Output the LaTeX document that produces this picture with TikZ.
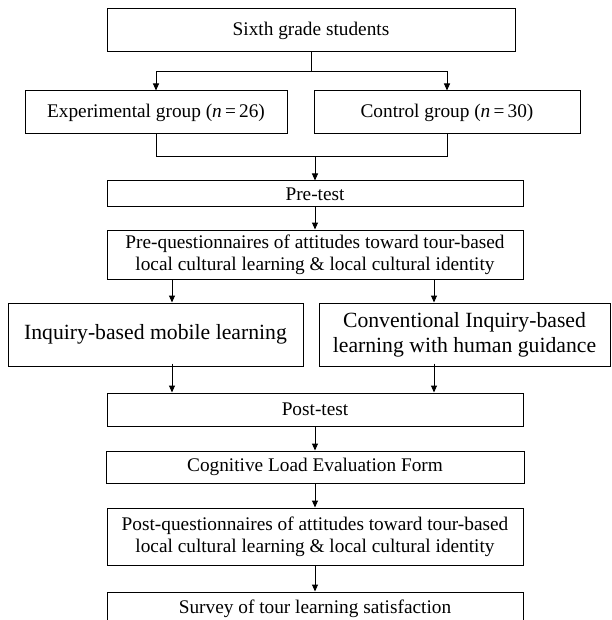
\documentclass[tikz,border=0pt]{standalone}
\usepackage{fontspec}
\setmainfont{Liberation Serif}
\usetikzlibrary{arrows.meta}
\tikzset{
  box/.style={draw, line width=1pt, inner sep=0pt, align=center,
    font=\fontsize{19.3}{22}\selectfont},
  bigbox/.style={box, font=\fontsize{21.7}{25}\selectfont},
  arr/.style={line width=1pt, -{Triangle[length=7pt,width=6pt]}},
  ln/.style={-}
}
\begin{document}
\begin{tikzpicture}[x=1pt,y=-1pt]
      \clip (0,0) rectangle (611,620);
      \fill[white] (0,0) rectangle (611,620);
      \node[box, minimum width=408pt, minimum height=43pt] (top) at (311,30.5) {Sixth grade students};
      \node[box, minimum width=262pt, minimum height=43pt] (exp) at (156,112.5) {Experimental group (\textit{n}\,=\,26)};
      \node[box, minimum width=266pt, minimum height=43pt] (ctrl) at (447,112.5) {Control group (\textit{n}\,=\,30)};
      \node[box, minimum width=416pt, minimum height=26pt] (pre) at (315,194) {Pre-test};
      \node[box, minimum width=416pt, minimum height=49pt] (preq) at (315,254.5) {Pre-questionnaires of attitudes toward tour-based\\local cultural learning \& local cultural identity};
      \node[bigbox, minimum width=295pt, minimum height=63pt] (inq) at (155.5,334.5) {Inquiry-based mobile learning};
      \node[bigbox, minimum width=291pt, minimum height=63pt] (conv) at (464.5,334.5) {Conventional Inquiry-based\\learning with human guidance};
      \node[box, minimum width=416pt, minimum height=33pt] (post) at (315,409.5) {Post-test};
      \node[box, minimum width=418pt, minimum height=32pt] (cog) at (315,467) {Cognitive Load Evaluation Form};
      \node[box, minimum width=416pt, minimum height=57pt] (postq) at (315,536.5) {Post-questionnaires of attitudes toward tour-based\\local cultural learning \& local cultural identity};
      \node[box, minimum width=416pt, minimum height=34pt] (surv) at (315,609) {Survey of tour learning satisfaction};
      \coordinate (split) at (311,72);
      \coordinate (merge) at (315,157);
      \coordinate (leftx) at (172,0);
      \coordinate (rightx) at (434,0);
      \begin{scope}[arr]
        \draw[ln] (top.south) -- (split);
        \draw (split) -| (exp.north);
        \draw (split) -| (ctrl.north);
        \draw[ln] (exp.south) |- (merge);
        \draw[ln] (ctrl.south) |- (merge);
        \draw (merge) -- (pre.north);
        \draw (pre.south) -- (preq.north);
        \draw (preq.south -| leftx) -- (inq.north -| leftx);
        \draw (preq.south -| rightx) -- (conv.north -| rightx);
        \draw ([yshift=3pt]inq.south -| leftx) -- (post.north -| leftx);
        \draw ([yshift=3pt]conv.south -| rightx) -- (post.north -| rightx);
        \draw (post.south) -- (cog.north);
        \draw (cog.south) -- (postq.north);
        \draw (postq.south) -- (surv.north);
      \end{scope}
    \end{tikzpicture}
\end{document}
